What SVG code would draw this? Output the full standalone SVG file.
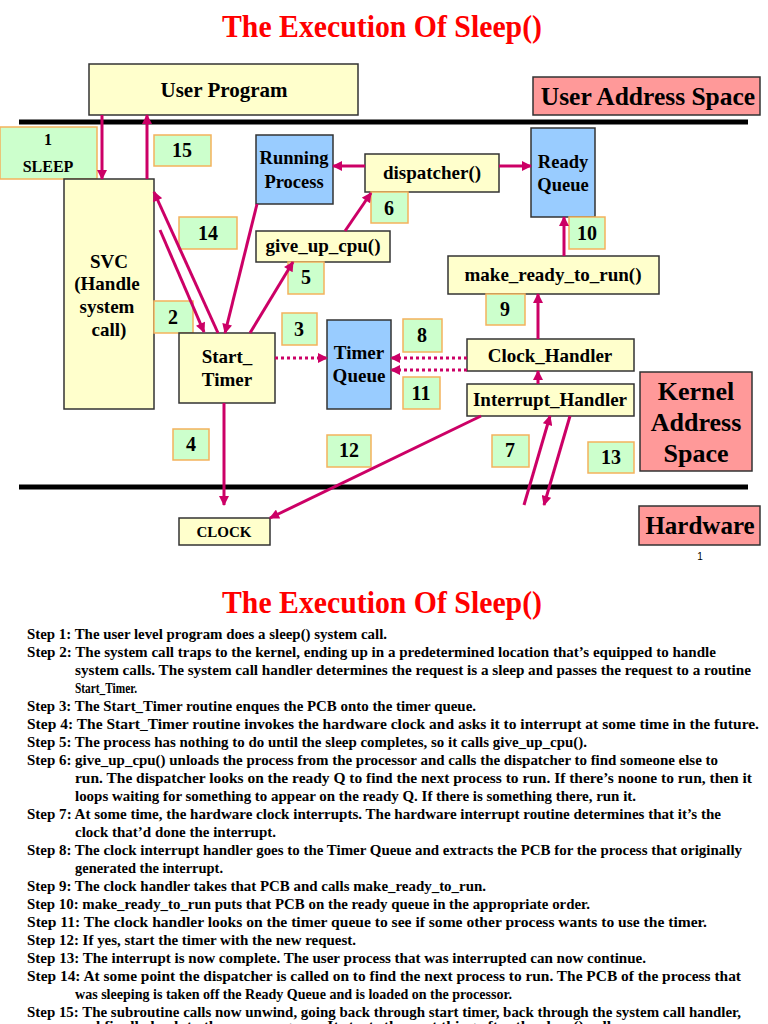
<svg xmlns="http://www.w3.org/2000/svg" width="768" height="1024" viewBox="0 0 768 1024">
<defs>
<marker id="ah" viewBox="0 0 10 10" refX="9" refY="5" markerWidth="11" markerHeight="10" markerUnits="userSpaceOnUse" orient="auto"><path d="M0,0 L10,5 L0,10 z" fill="#cc0066"/></marker>
<style>
.box{fill:#ffffcc;stroke:#333;stroke-width:1.5}
.blue{fill:#99ccff;stroke:#333;stroke-width:1.5}
.pink{fill:#ff9999;stroke:#333;stroke-width:1.5}
.num{fill:#ccffcc;stroke:#f4b25c;stroke-width:1.5}
.t{font-family:"Liberation Serif",serif;font-weight:bold;text-anchor:middle;fill:#000}
.title{font-family:"Liberation Serif",serif;font-weight:bold;text-anchor:middle;fill:#ff0000;font-size:31px}
.step{font-family:"Liberation Serif",serif;font-weight:bold;font-size:14px;fill:#000}
.conn line{stroke:#cc0066;stroke-width:3;marker-end:url(#ah)}
.conn line.dot{stroke-dasharray:3 3}
</style>
</defs>
<rect width="768" height="1024" fill="#fff"/>
<text class="title" x="382" y="37" textLength="320" lengthAdjust="spacingAndGlyphs">The Execution Of Sleep()</text>
<line x1="19" y1="122" x2="748" y2="122" stroke="#000" stroke-width="5"/>
<line x1="19" y1="487" x2="748" y2="487" stroke="#000" stroke-width="5"/>

<g id="user-program"><rect class="box" x="89" y="64" width="269" height="51"/><text class="t" x="224" y="97" font-size="21">User Program</text></g>
<g id="user-address-space"><rect class="pink" x="533" y="77" width="227" height="38"/><text class="t" x="648" y="105" font-size="25.5">User Address Space</text></g>
<g id="n1"><rect class="num" x="0" y="127" width="97" height="52"/><text class="t" x="48" y="145" font-size="16">1</text><text class="t" x="48" y="172" font-size="16">SLEEP</text></g>
<g id="n15"><rect class="num" x="154" y="135" width="57" height="31"/><text class="t" x="182" y="157" font-size="20">15</text></g>
<g id="svc"><rect class="box" x="64" y="179" width="90" height="230"/><text class="t" x="109" y="268" font-size="19">SVC</text><text class="t" x="107" y="290" font-size="19">(Handle</text><text class="t" x="107" y="313" font-size="19">system</text><text class="t" x="109" y="336" font-size="19">call)</text></g>
<g id="running-process"><rect class="blue" x="256" y="135" width="77" height="69"/><text class="t" x="294" y="164" font-size="18.5">Running</text><text class="t" x="294" y="188" font-size="18.5">Process</text></g>
<g id="dispatcher"><rect class="box" x="365" y="154" width="134" height="38"/><text class="t" x="432" y="179" font-size="19">dispatcher()</text></g>
<g id="ready-queue"><rect class="blue" x="531" y="128" width="64" height="89"/><text class="t" x="563" y="168" font-size="18.5">Ready</text><text class="t" x="563" y="191" font-size="18.5">Queue</text></g>
<g id="n6"><rect class="num" x="371" y="192" width="37" height="31"/><text class="t" x="389" y="215" font-size="20">6</text></g>
<g id="n10"><rect class="num" x="569" y="217" width="36" height="32"/><text class="t" x="587" y="240" font-size="20">10</text></g>
<g id="n14"><rect class="num" x="179" y="217" width="58" height="32"/><text class="t" x="208" y="240" font-size="20">14</text></g>
<g id="give-up-cpu"><rect class="box" x="256" y="231" width="134" height="31"/><text class="t" x="323" y="252" font-size="19">give_up_cpu()</text></g>
<g id="n5"><rect class="num" x="288" y="262" width="36" height="32"/><text class="t" x="306" y="284" font-size="20">5</text></g>
<g id="make-ready"><rect class="box" x="448" y="256" width="211" height="38"/><text class="t" x="553" y="281" font-size="19">make_ready_to_run()</text></g>
<g id="n9"><rect class="num" x="486" y="294" width="39" height="31"/><text class="t" x="505" y="316" font-size="20">9</text></g>
<g id="n2"><rect class="num" x="154" y="301" width="39" height="32"/><text class="t" x="173" y="324" font-size="20">2</text></g>
<g id="n3"><rect class="num" x="282" y="313" width="35" height="32"/><text class="t" x="299" y="336" font-size="20">3</text></g>
<g id="n8"><rect class="num" x="403" y="319" width="39" height="33"/><text class="t" x="422" y="342" font-size="20">8</text></g>
<g id="start-timer"><rect class="box" x="179" y="333" width="96" height="70"/><text class="t" x="227" y="363" font-size="19">Start_</text><text class="t" x="227" y="386" font-size="19">Timer</text></g>
<g id="timer-queue"><rect class="blue" x="327" y="320" width="64" height="89"/><text class="t" x="359" y="359" font-size="19">Timer</text><text class="t" x="359" y="382" font-size="19">Queue</text></g>
<g id="clock-handler"><rect class="box" x="467" y="339" width="167" height="32"/><text class="t" x="550" y="362" font-size="19">Clock_Handler</text></g>
<g id="n11"><rect class="num" x="403" y="377" width="37" height="32"/><text class="t" x="421" y="400" font-size="20">11</text></g>
<g id="interrupt-handler"><rect class="box" x="467" y="384" width="167" height="32"/><text class="t" x="550" y="406" font-size="19">Interrupt_Handler</text></g>
<g id="kernel-address-space"><rect class="pink" x="640" y="372" width="112" height="99"/><text class="t" x="696" y="400" font-size="26">Kernel</text><text class="t" x="696" y="431" font-size="26">Address</text><text class="t" x="696" y="462" font-size="26">Space</text></g>
<g id="n4"><rect class="num" x="173" y="429" width="36" height="31"/><text class="t" x="191" y="451" font-size="20">4</text></g>
<g id="n12"><rect class="num" x="327" y="435" width="44" height="32"/><text class="t" x="349" y="457" font-size="20">12</text></g>
<g id="n7"><rect class="num" x="492" y="435" width="37" height="32"/><text class="t" x="510" y="457" font-size="20">7</text></g>
<g id="n13"><rect class="num" x="588" y="442" width="46" height="31"/><text class="t" x="611" y="464" font-size="20">13</text></g>
<g id="hardware"><rect class="pink" x="639" y="506" width="121" height="39"/><text class="t" x="700" y="534" font-size="25">Hardware</text></g>
<g id="clock"><rect class="box" x="179" y="518" width="91" height="27"/><text class="t" x="224" y="537" font-size="15">CLOCK</text></g>
<text x="700" y="560" font-family="Liberation Sans, sans-serif" font-size="10" text-anchor="middle">1</text>

<g class="conn" id="connectors">
<line x1="102" y1="115" x2="102" y2="179"/>
<line x1="147" y1="179" x2="147" y2="115"/>
<line x1="365" y1="166" x2="333" y2="166"/>
<line x1="499" y1="166" x2="531" y2="166"/>
<line x1="345" y1="231" x2="371" y2="193"/>
<line x1="564" y1="256" x2="564" y2="217"/>
<line x1="538" y1="339" x2="538" y2="294"/>
<line x1="538" y1="384" x2="538" y2="371"/>
<line class="dot" x1="467" y1="358" x2="391" y2="358"/>
<line class="dot" x1="467" y1="370" x2="391" y2="370"/>
<line class="dot" x1="275" y1="358" x2="327" y2="358"/>
<line x1="160" y1="230" x2="204" y2="332"/>
<line x1="218" y1="333" x2="154" y2="192"/>
<line x1="257" y1="204" x2="225" y2="333"/>
<line x1="250" y1="333" x2="293" y2="262"/>
<line x1="224" y1="403" x2="224" y2="505"/>
<line x1="481" y1="416" x2="270" y2="518"/>
<line x1="524" y1="505" x2="550" y2="416"/>
<line x1="570" y1="416" x2="544" y2="505"/>
</g>

<text class="title" x="382" y="613" textLength="320" lengthAdjust="spacingAndGlyphs">The Execution Of Sleep()</text>
<g id="steps">
<text class="step" x="27" y="639" textLength="360" lengthAdjust="spacingAndGlyphs">Step 1: The user level program does a sleep() system call.</text>
<text class="step" x="27" y="657" textLength="689" lengthAdjust="spacingAndGlyphs">Step 2: The system call traps to the kernel, ending up in a predetermined location that’s equipped to handle</text>
<text class="step" x="75" y="675" textLength="676" lengthAdjust="spacingAndGlyphs">system calls.  The system call handler determines the request is a sleep and passes the request to a routine</text>
<text class="step" x="75" y="693" textLength="62" lengthAdjust="spacingAndGlyphs">Start_Timer.</text>
<text class="step" x="27" y="711" textLength="449" lengthAdjust="spacingAndGlyphs">Step 3: The Start_Timer routine enques the PCB onto the timer queue.</text>
<text class="step" x="27" y="729" textLength="732" lengthAdjust="spacingAndGlyphs">Step 4: The Start_Timer routine invokes the hardware clock and asks it to interrupt at some time in the future.</text>
<text class="step" x="27" y="747" textLength="560" lengthAdjust="spacingAndGlyphs">Step 5: The process has nothing to do until the sleep completes, so it calls give_up_cpu().</text>
<text class="step" x="27" y="765" textLength="691" lengthAdjust="spacingAndGlyphs">Step 6: give_up_cpu() unloads the process from the processor and calls the dispatcher to find someone else to</text>
<text class="step" x="75" y="783" textLength="677" lengthAdjust="spacingAndGlyphs">run.  The dispatcher looks on the ready Q to find the next process to run.  If there’s noone to run, then it</text>
<text class="step" x="75" y="801" textLength="561" lengthAdjust="spacingAndGlyphs">loops waiting for something to appear on the ready Q.  If there is something there, run it.</text>
<text class="step" x="27" y="819" textLength="694" lengthAdjust="spacingAndGlyphs">Step 7: At some time, the hardware clock interrupts.  The hardware interrupt routine determines that it’s the</text>
<text class="step" x="75" y="837" textLength="201" lengthAdjust="spacingAndGlyphs">clock that’d done the interrupt.</text>
<text class="step" x="27" y="855" textLength="715" lengthAdjust="spacingAndGlyphs">Step 8: The clock interrupt handler goes to the Timer Queue and extracts the PCB for the process that originally</text>
<text class="step" x="75" y="873" textLength="148" lengthAdjust="spacingAndGlyphs">generated the interrupt.</text>
<text class="step" x="27" y="891" textLength="459" lengthAdjust="spacingAndGlyphs">Step 9: The clock handler takes that PCB and calls make_ready_to_run.</text>
<text class="step" x="27" y="909" textLength="563" lengthAdjust="spacingAndGlyphs">Step 10: make_ready_to_run puts that PCB on the ready queue in the appropriate order.</text>
<text class="step" x="27" y="927" textLength="680" lengthAdjust="spacingAndGlyphs">Step 11: The clock handler looks on the timer queue to see if some other process wants to use the timer.</text>
<text class="step" x="27" y="945" textLength="329" lengthAdjust="spacingAndGlyphs">Step 12: If yes, start the timer with the new request.</text>
<text class="step" x="27" y="963" textLength="619" lengthAdjust="spacingAndGlyphs">Step 13: The interrupt is now complete.  The user process that was interrupted can now continue.</text>
<text class="step" x="27" y="981" textLength="714" lengthAdjust="spacingAndGlyphs">Step 14: At some point the dispatcher is called on to find the next process to run.  The PCB of the process that</text>
<text class="step" x="75" y="999" textLength="437" lengthAdjust="spacingAndGlyphs">was sleeping is taken off the Ready Queue and is loaded on the processor.</text>
<text class="step" x="27" y="1017" textLength="714" lengthAdjust="spacingAndGlyphs">Step 15: The subroutine calls now unwind, going back through start timer, back through the system call handler,</text>
<text class="step" x="75" y="1031" textLength="540" lengthAdjust="spacingAndGlyphs">and finally back to the user program.  It starts the next thing after the sleep() call.</text>
</g>
</svg>
